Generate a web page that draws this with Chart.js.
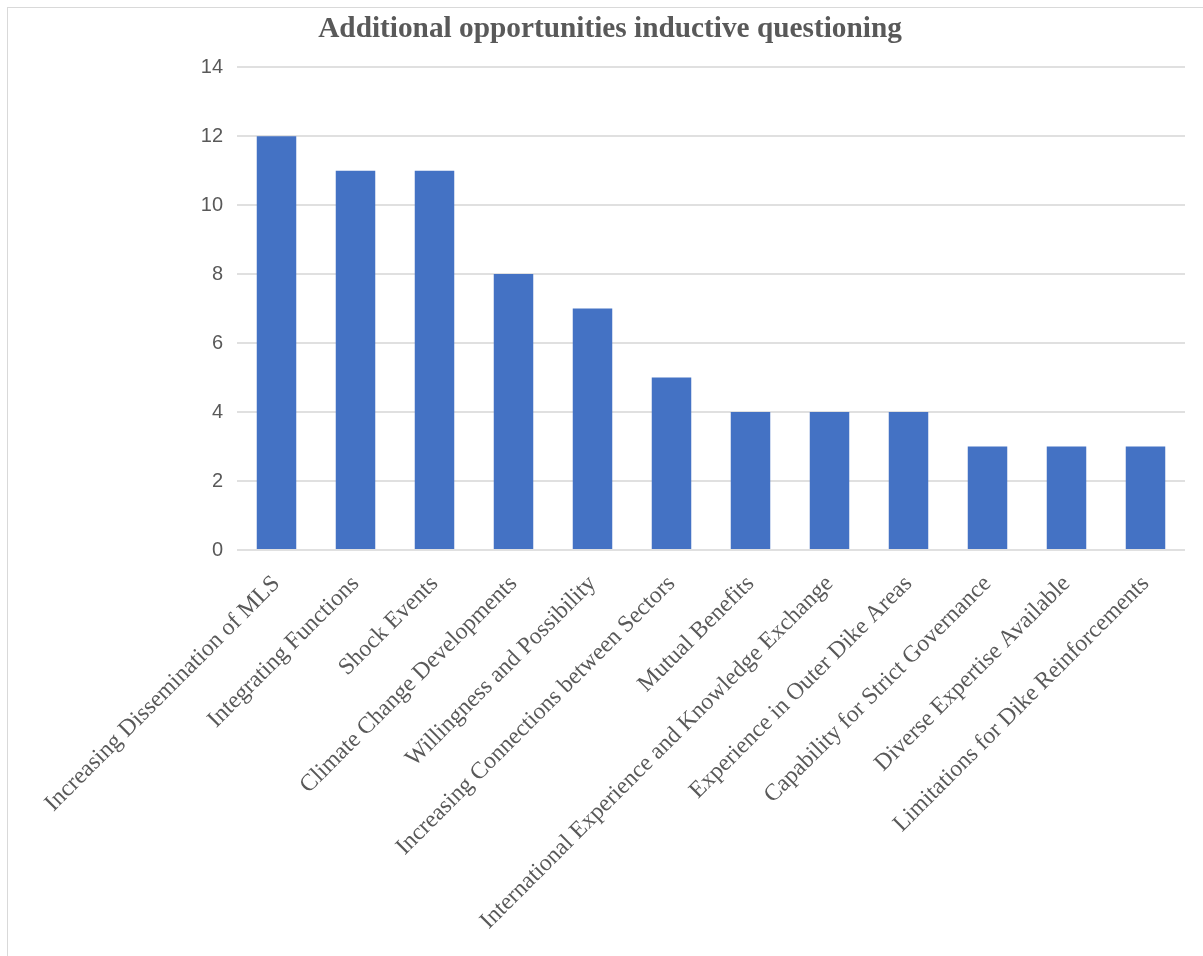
<!DOCTYPE html>
<html>
<head>
<meta charset="utf-8">
<script src="https://cdn.jsdelivr.net/npm/chart.js@4/dist/chart.umd.min.js"></script>
<style>
  html, body { margin: 0; padding: 0; background: #fff; overflow: hidden; width: 1203px; height: 956px; }
  #frame { position: absolute; left: 7px; top: 7px; width: 1400px; height: 1200px; border: 1px solid #d9d9d9; box-sizing: border-box; pointer-events: none; }
  canvas { position: absolute; left: 0; top: 0; }
</style>
</head>
<body>
<canvas id="c" width="1203" height="956"></canvas>
<div id="frame"></div>
<script>
const titleText = "Additional opportunities inductive questioning";
const categories = [
  "Increasing Dissemination of MLS",
  "Integrating Functions",
  "Shock Events",
  "Climate Change Developments",
  "Willingness and Possibility",
  "Increasing Connections between Sectors",
  "Mutual Benefits",
  "International Experience and Knowledge Exchange",
  "Experience in Outer Dike Areas",
  "Capability for Strict Governance",
  "Diverse Expertise Available",
  "Limitations for Dike Reinforcements"
];
const values = [12, 11, 11, 8, 7, 5, 4, 4, 4, 3, 3, 3];
const yMin = 0, yMax = 14, yStep = 2;

new Chart(document.getElementById('c'), {
  type: 'bar',
  data: {
    labels: categories,
    datasets: [{
      data: values,
      backgroundColor: '#4472C4',
      borderWidth: 0,
      barPercentage: 0.5,
      categoryPercentage: 1.0
    }]
  },
  options: {
    responsive: false,
    animation: false,
    layout: { padding: { left: 35, right: 18, top: 0, bottom: 0 } },
    plugins: {
      legend: { display: false },
      tooltip: { enabled: false },
      title: {
        display: true,
        text: titleText,
        color: '#595959',
        font: { family: 'Liberation Serif', size: 29.3, weight: 'bold' },
        padding: { top: 12, bottom: 20 }
      }
    },
    scales: {
      x: {
        grid: { display: false, drawTicks: false },
        border: { display: false },
        ticks: {
          autoSkip: false,
          minRotation: 45,
          maxRotation: 45,
          padding: 20,
          color: '#595959',
          font: { family: 'Liberation Serif', size: 23.7 }
        },
        afterFit: (s) => { s.height = 406; }
      },
      y: {
        min: yMin,
        max: yMax,
        grid: { color: '#e0e0e0', lineWidth: 2, drawTicks: false },
        border: { display: false },
        ticks: {
          stepSize: yStep,
          padding: 14,
          color: '#595959',
          font: { family: 'Liberation Sans', size: 20 }
        },
        afterFit: (s) => { s.width = 202; }
      }
    }
  }
});
</script>
</body>
</html>
